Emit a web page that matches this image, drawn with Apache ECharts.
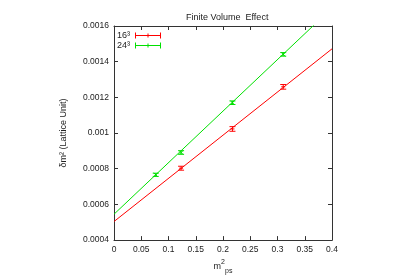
<!DOCTYPE html>
<html><head><meta charset="utf-8">
<script src="https://cdn.jsdelivr.net/npm/echarts@6/dist/echarts.min.js"></script>
<style>html,body{margin:0;padding:0;background:#fff}#c{width:400px;height:280px}</style>
</head><body><div id="c"></div>
<script>
const titleText = 'Finite Volume  Effect';
const seriesNames = ['16³', '24³'];
const xTicks = [0, 0.05, 0.1, 0.15, 0.2, 0.25, 0.3, 0.35, 0.4];
const yTicks = [0.0004, 0.0006, 0.0008, 0.001, 0.0012, 0.0014, 0.0016];
// measured points [x, y, err]
const red16X = [0.1231, 0.2174, 0.3105];
const red16Y = [0.000803, 0.001023, 0.001259];
const red16Err = [0.000011, 0.000013, 0.000013];
const green24X = [0.0766, 0.1231, 0.2174, 0.3105];
const green24Y = [0.000766, 0.000891, 0.001170, 0.001441];
const green24Err = [0.000009, 0.00001, 0.00001, 0.00001];
// fit line endpoints
const red16FitX = [0, 0.4];
const red16FitY = [0.000504, 0.001472];
const green24FitX = [0, 0.4];
const green24FitY = [0.000545, 0.001701];

const RED = '#ff0000', GREEN = '#00e000';
const zip = (xs, ys, es) => xs.map((x, i) => es ? [x, ys[i], es[i]] : [x, ys[i]]);

function errRender(sym) {
  return function (params, api) {
    const x = api.value(0), y = api.value(1), e = api.value(2);
    const c = api.coord([x, y]);
    const hi = api.coord([x, y + e]);
    const lo = api.coord([x, y - e]);
    const color = api.visual('color');
    const cw = 3;
    const st = { stroke: color, lineWidth: 1 };
    const children = [
      { type: 'line', shape: { x1: c[0], y1: hi[1], x2: c[0], y2: lo[1] }, style: st },
      { type: 'line', shape: { x1: c[0] - cw, y1: hi[1], x2: c[0] + cw, y2: hi[1] }, style: st },
      { type: 'line', shape: { x1: c[0] - cw, y1: lo[1], x2: c[0] + cw, y2: lo[1] }, style: st }
    ];
    const s = 2;
    if (sym === 'plus') {
      children.push({ type: 'line', shape: { x1: c[0] - s, y1: c[1], x2: c[0] + s, y2: c[1] }, style: st });
    } else {
      children.push({ type: 'line', shape: { x1: c[0] - s, y1: c[1] - s, x2: c[0] + s, y2: c[1] + s }, style: st });
      children.push({ type: 'line', shape: { x1: c[0] - s, y1: c[1] + s, x2: c[0] + s, y2: c[1] - s }, style: st });
    }
    return { type: 'group', children: children };
  };
}

const font = 'Liberation Sans, Arial, sans-serif';
const legendIcon = 'path://M0,2.5h26v1h-26zM0,0h1v6h-1zM25,0h1v6h-1zM12.5,1h1v4h-1z';
const axisLineStyle = { color: '#333', width: 1 };

const chart = echarts.init(document.getElementById('c'), null, { renderer: 'canvas' });
chart.setOption({
  animation: false,
  backgroundColor: '#fff',
  title: {
    text: titleText, left: 181, top: 8,
    textStyle: { fontSize: 9, fontWeight: 'normal', color: '#222', fontFamily: font }
  },
  legend: {
    data: seriesNames.map(n => ({ name: n, icon: legendIcon })),
    orient: 'vertical', left: 112, top: 26, align: 'right',
    itemWidth: 26, itemHeight: 6, itemGap: 1,
    textStyle: { fontSize: 9, color: '#222', fontFamily: font, padding: [0, 0, 0, 0] }
  },
  grid: { left: 114, right: 68, top: 26, bottom: 36 },
  xAxis: [{
    type: 'value', min: 0, max: 0.4, interval: 0.05,
    name: '{m|m}{sup|2}{sub|ps}', nameLocation: 'middle', nameGap: 14,
    nameTextStyle: {
      rich: {
        m: { fontSize: 9, color: '#222', fontFamily: font, lineHeight: 16, verticalAlign: 'middle' },
        sup: { fontSize: 7, color: '#222', fontFamily: font, lineHeight: 16, verticalAlign: 'top' },
        sub: { fontSize: 7, color: '#222', fontFamily: font, lineHeight: 16, verticalAlign: 'bottom', padding: [8, 0, 0, 0] }
      }
    },
    axisLine: { lineStyle: axisLineStyle, onZero: false },
    axisTick: { inside: true, length: 4, lineStyle: { color: '#333' } },
    axisLabel: { fontSize: 8.5, color: '#222', fontFamily: font, margin: 5,
      formatter: v => String(xTicks.find(t => Math.abs(t - v) < 1e-9) ?? v) },
    splitLine: { show: false }
  }, {
    type: 'value', min: 0, max: 0.4, interval: 0.05, position: 'top',
    axisLine: { lineStyle: axisLineStyle, onZero: false },
    axisTick: { inside: true, length: 4, lineStyle: { color: '#333' } },
    axisLabel: { show: false }, splitLine: { show: false }
  }],
  yAxis: [{
    type: 'value', min: 0.0004, max: 0.0016, interval: 0.0002,
    name: 'δm² (Lattice Unit)', nameLocation: 'middle', nameGap: 46, nameRotate: 90,
    nameTextStyle: { fontSize: 9, color: '#222', fontFamily: font },
    axisLine: { show: true, lineStyle: axisLineStyle, onZero: false },
    axisTick: { show: true, inside: true, length: 4, lineStyle: { color: '#333' } },
    axisLabel: { fontSize: 8.5, color: '#222', fontFamily: font, margin: 5,
      formatter: v => String(yTicks.find(t => Math.abs(t - v) < 1e-12) ?? v) },
    splitLine: { show: false }
  }, {
    type: 'value', min: 0.0004, max: 0.0016, interval: 0.0002, position: 'right',
    axisLine: { show: true, lineStyle: axisLineStyle, onZero: false },
    axisTick: { show: true, inside: true, length: 4, lineStyle: { color: '#333' } },
    axisLabel: { show: false }, splitLine: { show: false }
  }],
  series: [
    { name: '16³ fit', type: 'line', data: zip(red16FitX, red16FitY), showSymbol: false,
      lineStyle: { color: RED, width: 1 }, itemStyle: { color: RED }, clip: true, silent: true, z: 2 },
    { name: '24³ fit', type: 'line', data: zip(green24FitX, green24FitY), showSymbol: false,
      lineStyle: { color: GREEN, width: 1 }, itemStyle: { color: GREEN }, clip: true, silent: true, z: 2 },
    { name: seriesNames[0], type: 'custom', renderItem: errRender('plus'),
      data: zip(red16X, red16Y, red16Err), itemStyle: { color: RED }, encode: { x: 0, y: 1 }, z: 3 },
    { name: seriesNames[1], type: 'custom', renderItem: errRender('cross'),
      data: zip(green24X, green24Y, green24Err), itemStyle: { color: GREEN }, encode: { x: 0, y: 1 }, z: 3 }
  ]
});
</script></body></html>
